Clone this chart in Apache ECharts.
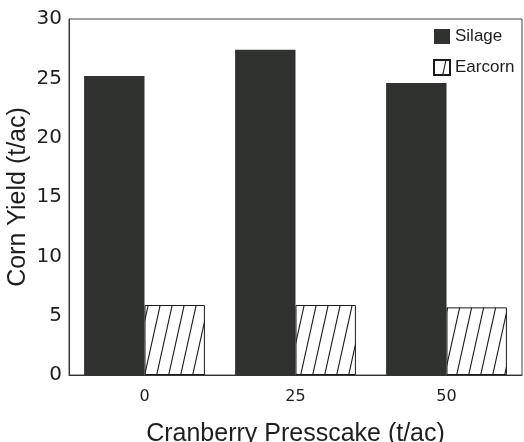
<!DOCTYPE html>
<html>
<head>
<meta charset="utf-8">
<script src="https://cdn.jsdelivr.net/npm/echarts@6/dist/echarts.min.js"></script>
<style>
  html, body { margin: 0; padding: 0; background: #fff; }
  #chart { width: 524px; height: 442px; }
</style>
</head>
<body>
<div id="chart"></div>
<script>
// Corn yield by cranberry presscake application rate
const categories = ['0', '25', '50'];
const silage = [25.2, 27.4, 24.6];
const earcorn = [5.9, 5.9, 5.7];
const yTicks = { min: 0, max: 30, interval: 5 };

// Diagonal hatch tile for the earcorn bars
function hatchPattern() {
  const w = 12, h = 54;
  const c = document.createElement('canvas');
  c.width = w; c.height = h;
  const ctx = c.getContext('2d');
  ctx.fillStyle = '#ffffff';
  ctx.fillRect(0, 0, w, h);
  ctx.strokeStyle = '#1a1a1a';
  ctx.lineWidth = 1.1;
  for (let k = -1; k <= 1; k++) {
    ctx.beginPath();
    ctx.moveTo(k * w, h);
    ctx.lineTo(k * w + w, 0);
    ctx.stroke();
  }
  return c;
}

const textColor = '#1e1e1e';
const font = 'Liberation Sans';
const chart = echarts.init(document.getElementById('chart'), null, { renderer: 'canvas' });

chart.setOption({
  animation: false,
  backgroundColor: '#ffffff',
  grid: {
    left: 69, right: 2, top: 19, bottom: 67,
    containLabel: false,
    outerBoundsMode: 'none',
    show: true, borderColor: '#444', borderWidth: 1
  },
  legend: {
    orient: 'vertical',
    left: 433, top: 28,
    padding: 0,
    itemWidth: 16, itemHeight: 15,
    itemGap: 14,
    textStyle: { fontFamily: font, fontSize: 17, color: textColor, lineHeight: 15 },
    data: [
      { name: 'Silage', icon: 'rect', itemStyle: { borderWidth: 0 } },
      { name: 'Earcorn', icon: 'rect' }
    ]
  },
  xAxis: {
    type: 'category',
    data: categories,
    axisLine: { lineStyle: { color: '#333', width: 1 } },
    axisTick: { show: false },
    axisLabel: {
      margin: 14, fontFamily: 'DejaVu Sans', fontSize: 16, color: textColor
    },
    name: 'Cranberry Presscake (t/ac)',
    nameLocation: 'middle',
    nameGap: 47,
    nameMoveOverlap: false,
    nameTextStyle: { fontFamily: font, fontSize: 25, color: textColor }
  },
  yAxis: {
    type: 'value',
    min: yTicks.min, max: yTicks.max, interval: yTicks.interval,
    splitLine: { show: false },
    axisLine: { show: true, lineStyle: { color: '#333', width: 1 } },
    axisTick: { show: false },
    axisLabel: {
      margin: 7, fontFamily: 'DejaVu Sans', fontSize: 20, color: textColor
    },
    name: 'Corn Yield (t/ac)',
    nameLocation: 'middle',
    nameGap: 38,
    nameMoveOverlap: false,
    nameTextStyle: { fontFamily: font, fontSize: 25, color: textColor }
  },
  series: [
    {
      name: 'Silage',
      type: 'bar',
      data: silage,
      barGap: '0%',
      barCategoryGap: '20%',
      itemStyle: { color: '#303230' }
    },
    {
      name: 'Earcorn',
      type: 'bar',
      data: earcorn,
      itemStyle: {
        color: { image: hatchPattern(), repeat: 'repeat' },
        borderColor: '#1a1a1a',
        borderWidth: 1
      }
    }
  ]
});
</script>
</body>
</html>
